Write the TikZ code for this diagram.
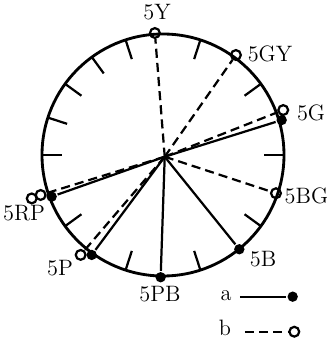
\documentclass[tikz,border=0pt]{standalone}
\begin{document}
\begin{tikzpicture}[line width=1.1pt,
  full/.style={circle,fill,inner sep=0pt,minimum size=0.18cm},
  hollow/.style={circle,draw,inner sep=0pt,minimum size=0.17cm},
  dashline/.style={dash pattern=on 4.5pt off 2.5pt},
  hue/.style={font=\fontsize{11}{13}\selectfont}]
\useasboundingbox (-2.829,-3.263) rectangle (2.864,2.690);
% hue circle and ticks
\draw[line width=1.4pt] (0,0) circle (2.1);
\foreach \ang in {0,36,72,108,126,144,162,180,216,252,288,324}
  \draw (\ang:2.1) -- (\ang:1.75);
\coordinate (o) at (0.03,-0.03);
% series a
\node[full] (aG) at (16.4:2.147) {};
\node[full] (aB) at (-51:2.105) {};
\node[full] (aPB) at (-91.1:2.122) {};
\node[full] (aP) at (234.5:2.131) {};
\node[full] (aRP) at (200.5:2.063) {};
% series b
\node[hollow] (bY) at (93.8:2.122) {};
\node[hollow] (bGY) at (53.9:2.148) {};
\node[hollow] (bG) at (20.5:2.228) {};
\node[hollow] (bBG) at (-18.7:2.07) {};
\node[hollow] (bP) at (230.5:2.247) {};
\node[hollow] (bRP) at (198.1:2.234) {};
\node[hollow] (bRPx) at (198.3:2.40) {};
\foreach \p in {aG,aB,aPB,aP,aRP}
  \draw (o) -- (\p);
\foreach \p in {bY,bGY,bG,bBG,bP,bRP}
  \draw[dashline] (o) -- (\p);
% hue labels
\node[hue] (tY) at (-0.104,2.473) {5Y};
\node[hue] (tGY) at (1.857,1.762) {5GY};
\node[hue] (tG) at (2.569,0.738) {5G};
\node[hue] (tBG) at (2.49,-0.712) {5BG};
\node[hue] (tB) at (1.736,-1.814) {5B};
\node[hue] (tPB) at (-0.052,-2.412) {5PB};
\node[hue] (tP) at (-1.788,-1.970) {5P};
\node[hue] (tRP) at (-2.412,-1.015) {5RP};
% legend
\node[hue] (la) at (1.093,-2.447) {a};
\coordinate (a0) at (1.336,-2.459);
\node[full] (ka) at (2.251,-2.459) {};
\draw (a0) -- (ka);
\node[hue] (lb) at (1.076,-2.994) {b};
\coordinate (b0) at (1.423,-3.067);
\node[hollow] (kb) at (2.279,-3.067) {};
\draw[dashline] (b0) -- (kb);
\end{tikzpicture}
\end{document}
